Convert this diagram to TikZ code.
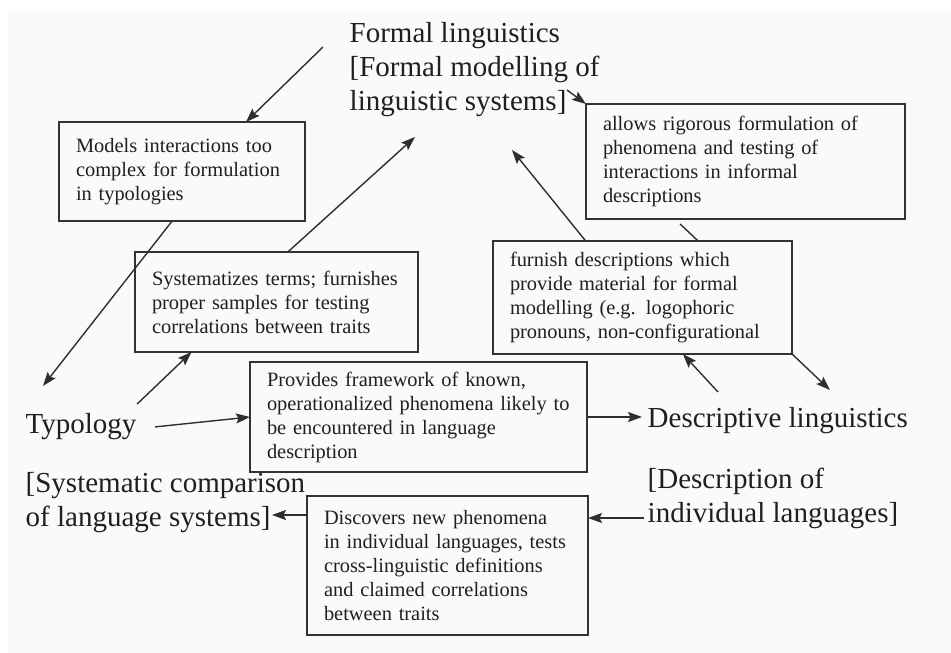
\documentclass[tikz,border=0pt]{standalone}
\usepackage{fontspec}
\setmainfont{Liberation Serif}
\usetikzlibrary{calc,arrows.meta}

\begin{document}
\begin{tikzpicture}[x=1pt, y=-1pt, >={Stealth[length=14pt,width=10pt,inset=2.5pt]}, line width=1.4pt]
    \tikzstyle{txtbox}=[draw=black!80, anchor=north west, align=left, inner xsep=17pt, outer sep=0pt, text=black!88, font=\fontsize{20.4}{24}\selectfont]
    \tikzstyle{field}=[anchor=north west, align=left, inner sep=0pt, text=black!88, font=\fontsize{29}{34}\selectfont]
    \tikzstyle{link}=[draw=black!82, ->]

    \useasboundingbox (0,0) rectangle (951,653);
    \fill[black!2] (8,11) rectangle (951,653);

    % the three fields
    \node[field] (formal) at (349,22) {Formal linguistics\\{[}Formal modelling of\\linguistic systems]};
    \node[field] (typology) at (25,413) {Typology};
    \node[field] (typcomp) at (25,472) {[Systematic comparison\\of language systems]};
    \node[field] (descr) at (647,407) {Descriptive linguistics};
    \node[field] (descrind) at (647,467) {[Description of\\individual languages]};

    % what each one gives the others
    \node[txtbox, text width=212pt, minimum height=99pt] (models) at (59,122) {Models interactions too\\complex for formulation\\in typologies};
    \node[txtbox, text width=249pt, minimum height=100pt] (systematizes) at (135,252) {Systematizes terms; furnishes\\proper samples for testing\\correlations between traits};
    \node[txtbox, text width=285pt, minimum height=115pt] (allows) at (586,104) {allows rigorous formulation of\\phenomena and testing of\\interactions in informal\\descriptions};
    \node[txtbox, text width=265pt, minimum height=113pt] (furnish) at (493,241) {furnish descriptions which\\provide material for formal\\modelling (e.g. logophoric\\pronouns, non-configurational};
    \node[txtbox, text width=303pt, minimum height=110pt] (provides) at (250,362) {Provides framework of known,\\operationalized phenomena likely to\\be encountered in language\\description};
    \node[txtbox, text width=247pt, minimum height=139pt] (discovers) at (307,496) {Discovers new phenomena\\in individual languages, tests\\cross-linguistic definitions\\and claimed correlations\\between traits};

    % formal <-> typology
    \draw[link] ($(formal.north west)+(-26,25)$) -- ($(models.north west)!0.76!(models.north east)$);
    \draw[link] ($(models.south west)!0.46!(models.south east)$) -- ($(typology.north west)+(18,-27)$);
    \draw[link] ($(typology.north east)+(0,-9)$) -- ($(systematizes.south west)!0.2!(systematizes.south east)$);
    \draw[link] ($(systematizes.north west)!0.54!(systematizes.north east)$) -- ($(formal.north west)+(66,115)$);

    % typology <-> descriptive
    \draw[link] ($(typology.east)+(18,0)$) -- (provides.west);
    \draw[link] (provides.east) -- ($(provides.east -| descr.west)+(-5,0)$);
    \coordinate (indstart) at ($(descrind.north west)+(-3,51)$);
    \draw[link] (indstart) -- (indstart -| discovers.east);
    \coordinate (cmpend) at ($(typcomp.north west)+(247,43)$);
    \draw[link] (discovers.west |- cmpend) -- (cmpend);

    % descriptive <-> formal
    \draw[link] ($(descr.north west)+(71,-15)$) -- ($(furnish.south west)!0.635!(furnish.south east)$);
    \draw[link] ($(furnish.north west)!0.31!(furnish.north east)$) -- ($(formal.north west)+(163,128)$);
    \draw[link] ($(formal.north west)+(218,68)$) -- (allows.north west);
    \draw[draw=black!82] ($(allows.south west)!0.295!(allows.south east)+(0,5)$) -- ($(furnish.north west)!0.686!(furnish.north east)$);
    \draw[link] (furnish.south east) -- ($(descr.north west)+(183,-17)$);
\end{tikzpicture}
\end{document}
